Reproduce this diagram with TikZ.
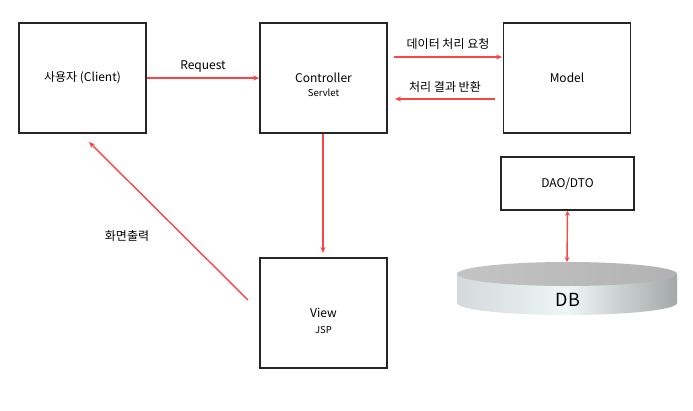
\documentclass[tikz,border=0pt]{standalone}
\usepackage{fontspec}
\setmainfont{Noto Sans CJK KR}
\usetikzlibrary{arrows.meta}
\definecolor{arr}{HTML}{F84646}
\definecolor{sideL}{HTML}{D4D9DB}
\definecolor{sideM}{HTML}{EEF6F8}
\definecolor{sideR}{HTML}{A4A8A8}
\definecolor{topL}{HTML}{C4C4C4}
\definecolor{topR}{HTML}{B2B2B2}
\begin{document}
\begin{tikzpicture}[x=1pt,y=-1pt,
  box/.style={draw=black!85,line width=1.6pt,minimum width=127pt,minimum height=110pt,inner sep=0pt,align=center,font=\fontsize{12}{14}\selectfont},
  sub/.style={font=\fontsize{9.5}{10}\selectfont,inner sep=0pt},
  conn/.style={draw=arr,line width=1.4pt,-{Stealth[length=6pt,width=5pt]}},
  lbl/.style={font=\fontsize{12}{14}\selectfont,inner sep=1pt}]
\useasboundingbox (0,0) rectangle (693,410);
\node[box] (client) at (82.5,78) {사용자 (Client)};
\node[box] (ctrl) at (323.5,78) {Controller};
\node[sub] (ctrlsub) at (323.5,93) {Servlet};
\node[box] (model) at (567,78) {Model};
\node[box,minimum width=133pt,minimum height=53pt] (dao) at (567.5,183.5) {DAO/DTO};
\node[box] (view) at (323.5,313) {View};
\node[sub] (viewsub) at (323.5,330) {JSP};
% DB cylinder
\shade[left color=sideL,right color=sideR,middle color=sideM] (457,274) -- (457,303) arc[start angle=180,end angle=0,x radius=110,y radius=12] -- (677,274) -- cycle;
\shade[left color=topL,right color=topR] (567,274) ellipse[x radius=110,y radius=12];
\node[font=\fontsize{18}{20}\selectfont] (db) at (568,300) {DB};
\coordinate (dbtop) at (567,262);
% connectors
\draw[conn] (client.east) -- node[lbl,above=4pt]{Request} (ctrl.west);
\coordinate (a1) at (394,57);
\coordinate (a2) at (502,57);
\draw[conn] (a1) -- node[lbl,above=6pt]{데이터 처리 요청} (a2);
\coordinate (b1) at (495,99);
\coordinate (b2) at (395,99);
\draw[conn] (b1) -- node[lbl,above=5pt]{처리 결과 반환} (b2);
\draw[conn] ([xshift=-0.5pt]ctrl.south) -- (323,253);
\coordinate (v1) at (248,300);
\coordinate (c1) at (89,142);
\draw[conn] (v1) -- (c1);
\node[lbl] (out) at (127,236) {화면출력};
\draw[draw=arr,line width=1.4pt,{Stealth[length=5pt,width=5pt]}-{Stealth[length=5pt,width=5pt]}] (dao.south) -- (dbtop);
\end{tikzpicture}
\end{document}
